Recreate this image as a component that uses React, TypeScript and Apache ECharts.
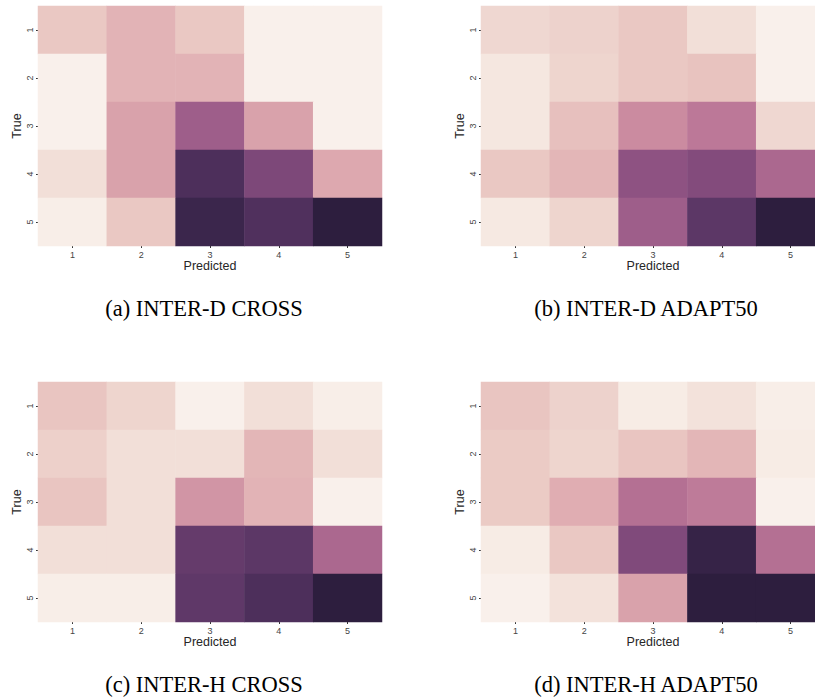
import React, { useEffect, useRef } from "react";
import * as echarts from "echarts";

const predictedLabels = ["1", "2", "3", "4", "5"];
const trueLabels = ["1", "2", "3", "4", "5"];

const captions = [
  "(a) INTER-D CROSS",
  "(b) INTER-D ADAPT50",
  "(c) INTER-H CROSS",
  "(d) INTER-H ADAPT50",
];

// rows = True 1..5, columns = Predicted 1..5 (relative intensity 0-100)
const interDCross = [
  [16, 24, 16, 0, 0],
  [0, 24, 24, 0, 0],
  [0, 31, 61, 31, 0],
  [7, 31, 89, 73, 28],
  [1, 16, 95, 88, 100],
];
const interDAdapt50 = [
  [10, 12, 16, 7, 0],
  [4, 11, 16, 18, 0],
  [4, 19, 40, 48, 10],
  [16, 23, 67, 71, 56],
  [3, 11, 61, 84, 100],
];
const interHCross = [
  [17, 11, 0, 7, 1],
  [13, 7, 7, 23, 7],
  [17, 7, 36, 24, 0],
  [7, 7, 81, 84, 56],
  [1, 1, 83, 89, 100],
];
const interHAdapt50 = [
  [17, 12, 2, 6, 1],
  [15, 11, 17, 23, 2],
  [15, 26, 52, 47, 0],
  [2, 16, 72, 97, 52],
  [0, 6, 31, 100, 100],
];

const matrices = [interDCross, interDAdapt50, interHCross, interHAdapt50];

// seaborn cubehelix_palette(light=.95, dark=.15) colormap
function cubehelixStops(n: number): string[] {
  const start = 0, rot = 0.4, hue = 0.8, light = 0.95, dark = 0.15;
  const f = (x: number, p0: number, p1: number) => {
    const a = (hue * x * (1 - x)) / 2;
    const phi = 2 * Math.PI * (start / 3 + rot * x);
    return x + a * (p0 * Math.cos(phi) + p1 * Math.sin(phi));
  };
  const out: string[] = [];
  for (let i = 0; i < n; i++) {
    const x = light + ((dark - light) * i) / (n - 1);
    const c = (v: number) => Math.round(Math.max(0, Math.min(1, v)) * 255);
    const r = c(f(x, -0.14861, 1.78277));
    const g = c(f(x, -0.29227, -0.90649));
    const b = c(f(x, 1.97294, 0));
    out.push(`rgb(${r},${g},${b})`);
  }
  return out;
}

export default function App() {
  const ref = useRef<HTMLDivElement>(null);
  useEffect(() => {
    if (!ref.current) return;
    const chart = echarts.init(ref.current, undefined, { renderer: "svg" });
    const colors = cubehelixStops(33);
    const grids = [
      { left: 38, top: 6, width: 344, height: 240, outerBoundsMode: "none", containLabel: false },
      { left: 481, top: 6, width: 344, height: 240, outerBoundsMode: "none", containLabel: false },
      { left: 38, top: 382, width: 344, height: 240, outerBoundsMode: "none", containLabel: false },
      { left: 481, top: 382, width: 344, height: 240, outerBoundsMode: "none", containLabel: false },
    ];
    const captionPos = [
      { x: 204, y: 308 },
      { x: 646, y: 308 },
      { x: 204, y: 684 },
      { x: 646, y: 684 },
    ];
    const sans = "'Liberation Sans', Arial, sans-serif";
    const xAxes = grids.map((_, i) => ({
      type: "category",
      gridIndex: i,
      data: predictedLabels,
      name: "Predicted",
      nameLocation: "middle",
      nameGap: 13,
      nameTextStyle: { fontFamily: sans, fontSize: 12.5, color: "#262626" },
      axisLine: { show: false },
      axisTick: { show: true, alignWithLabel: true, length: 2, lineStyle: { color: "#333", width: 1 } },
      axisLabel: { fontFamily: sans, fontSize: 9, color: "#444", margin: 4 },
      splitLine: { show: false },
    }));
    const yAxes = grids.map((_, i) => ({
      type: "category",
      gridIndex: i,
      data: trueLabels,
      inverse: true,
      name: "True",
      nameLocation: "middle",
      nameGap: 15,
      nameRotate: 90,
      nameTextStyle: { fontFamily: sans, fontSize: 12.5, color: "#262626" },
      axisLine: { show: false },
      axisTick: { show: true, alignWithLabel: true, length: 2, lineStyle: { color: "#333", width: 1 } },
      axisLabel: { fontFamily: sans, fontSize: 9, color: "#444", margin: 4, rotate: 90 },
      splitLine: { show: false },
    }));
    const series = matrices.map((m, i) => {
      const data: number[][] = [];
      m.forEach((row, r) => row.forEach((v, c) => data.push([c, r, v])));
      return {
        type: "heatmap",
        xAxisIndex: i,
        yAxisIndex: i,
        data,
        itemStyle: { borderWidth: 0 },
        emphasis: { disabled: true },
      };
    });
    const visualMaps = matrices.map((_, i) => ({
      type: "continuous",
      show: false,
      seriesIndex: i,
      dimension: 2,
      min: 0,
      max: 100,
      inRange: { color: colors },
    }));
    chart.setOption({
      animation: false,
      backgroundColor: "#ffffff",
      grid: grids,
      xAxis: xAxes,
      yAxis: yAxes,
      visualMap: visualMaps,
      series,
      graphic: captions.map((t, i) => ({
        type: "text",
        x: captionPos[i].x,
        y: captionPos[i].y,
        style: {
          text: t,
          fontFamily: "'Liberation Serif', 'Times New Roman', serif",
          fontSize: 22.5,
          fill: "#000",
          textAlign: "center",
          textVerticalAlign: "middle",
        },
      })),
    });
    return () => chart.dispose();
  }, []);
  return (
    <div
      ref={ref}
      style={{ position: "fixed", left: 0, top: 0, width: 815, height: 698 }}
    />
  );
}
